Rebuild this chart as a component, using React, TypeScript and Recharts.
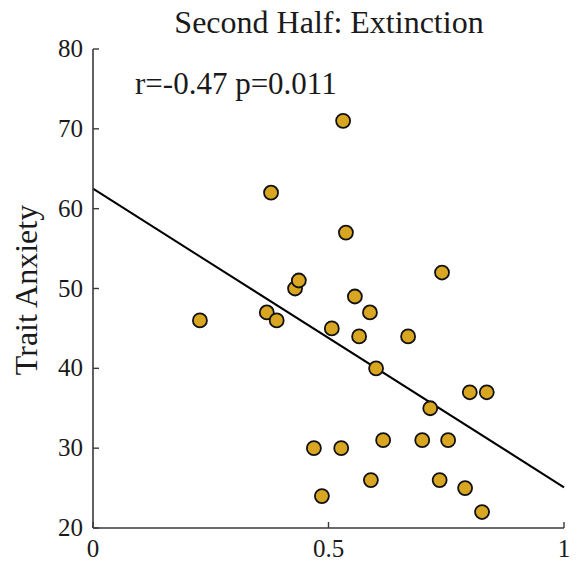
import { ScatterChart, Scatter, XAxis, YAxis, ReferenceLine } from "recharts";

// extinction index (x) vs trait anxiety (y), second half
const extinction = [
  0.227, 0.378, 0.369, 0.39, 0.429, 0.437, 0.469, 0.486, 0.507, 0.531,
  0.527, 0.537, 0.556, 0.565, 0.588, 0.59, 0.601, 0.616, 0.669, 0.699,
  0.716, 0.736, 0.741, 0.754, 0.79, 0.8, 0.826, 0.836,
];
const anxiety = [
  46, 62, 47, 46, 50, 51, 30, 24, 45, 71,
  30, 57, 49, 44, 47, 26, 40, 31, 44, 31,
  35, 26, 52, 31, 25, 37, 22, 37,
];
const xTicks = [0, 0.5, 1];
const yTicks = [20, 30, 40, 50, 60, 70, 80];
const fitStart = { x: 0, y: 62.5 };
const fitEnd = { x: 1, y: 25.1 };
const statsLabel = "r=-0.47 p=0.011";

const points = extinction.map((x, i) => ({ x, y: anxiety[i] }));

const FONT = "'Liberation Serif', 'Times New Roman', serif";
const AXIS = "#3a3a3a";
const TEXT = "#1a1a1a";

function XTick({ x, y, payload }: any) {
  return (
    <g>
      <line x1={x} x2={x} y1={y} y2={y - 6} stroke={AXIS} strokeWidth={1.4} />
      <text x={x} y={y + 29} textAnchor="middle" fontFamily={FONT} fontSize={25} fill={TEXT}>
        {payload.value}
      </text>
    </g>
  );
}

function YTick({ x, y, payload }: any) {
  return (
    <g>
      <line x1={x} x2={x + 6} y1={y} y2={y} stroke={AXIS} strokeWidth={1.4} />
      <text x={x - 10} y={y + 8} textAnchor="end" fontFamily={FONT} fontSize={25} fill={TEXT}>
        {payload.value}
      </text>
    </g>
  );
}

export default function App() {
  return (
    <div style={{ position: "absolute", left: 0, top: 0, background: "#fff" }}>
      <ScatterChart
        width={581}
        height={565}
        margin={{ top: 49, right: 17, bottom: 36, left: 92 }}
      >
        <XAxis
          type="number"
          dataKey="x"
          domain={[0, 1]}
          ticks={xTicks}
          height={1}
          tickSize={0}
          tickMargin={0}
          tick={<XTick />}
          axisLine={{ stroke: AXIS, strokeWidth: 1.6 }}
          allowDataOverflow
        />
        <YAxis
          type="number"
          dataKey="y"
          domain={[20, 80]}
          ticks={yTicks}
          width={1}
          tickSize={0}
          tickMargin={0}
          tick={<YTick />}
          axisLine={{ stroke: AXIS, strokeWidth: 1.6 }}
          allowDataOverflow
        />
        <ReferenceLine
          segment={[fitStart, fitEnd]}
          stroke="#000"
          strokeWidth={2}
        />
        <Scatter
          data={points}
          fill="#d9a621"
          shape={(p: any) => (
            <circle cx={p.cx} cy={p.cy} r={7} fill="#d9a621" stroke="#111" strokeWidth={1.8} />
          )}
          isAnimationActive={false}
        />
        <text x={329} y={33} textAnchor="middle" fontFamily={FONT} fontSize={32} fill={TEXT}>
          Second Half: Extinction
        </text>
        <text x={135} y={94} fontFamily={FONT} fontSize={31} fill={TEXT}>
          {statsLabel}
        </text>
        <text
          x={0}
          y={0}
          transform="translate(37, 290) rotate(-90)"
          textAnchor="middle"
          fontFamily={FONT}
          fontSize={32}
          fill={TEXT}
        >
          Trait Anxiety
        </text>
      </ScatterChart>
    </div>
  );
}
